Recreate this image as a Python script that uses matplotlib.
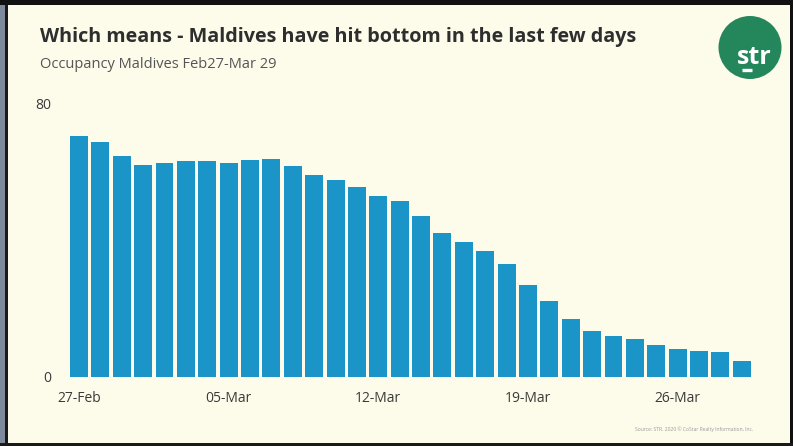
import matplotlib
matplotlib.use("Agg")
import matplotlib.pyplot as plt
from matplotlib.patches import Circle, Rectangle
from matplotlib.lines import Line2D

# Daily occupancy (%) in the Maldives, 27 Feb - 29 Mar 2020
days = ["27-Feb", "28-Feb", "29-Feb"] + [f"{d:02d}-Mar" for d in range(1, 30)]
occupancy = [70.5, 68.6, 64.6, 62.1, 62.7, 63.2, 63.2, 62.5, 63.5, 63.8,
             61.6, 59.1, 57.7, 55.5, 52.9, 51.4, 47.2, 42.2, 39.5, 36.9,
             33.1, 26.9, 22.3, 17.1, 13.5, 12.1, 11.2, 9.5, 8.2, 7.6,
             7.4, 4.6]
tick_labels = ["27-Feb", "05-Mar", "12-Mar", "19-Mar", "26-Mar"]
y_ticks = [0, 80]

title = "Which means - Maldives have hit bottom in the last few days"
subtitle = "Occupancy Maldives Feb27-Mar 29"
source = "Source: STR. 2020 \u00a9 CoStar Realty Information, Inc."

W, H = 793, 446
BG = "#fdfbea"
BAR = "#1b95c8"
GREEN = "#24875c"
FONT = "Open Sans"

plt.rcParams["font.family"] = [FONT, "DejaVu Sans"]

fig = plt.figure(figsize=(W / 100, H / 100), dpi=100)
fig.patch.set_facecolor(BG)


def fx(px):
    return px / W


def fy(py):
    return 1 - py / H


# Slide frame: desktop strip on the left, dark edges around the slide
fig.add_artist(Rectangle((0, 0), fx(5), 1, transform=fig.transFigure,
                         facecolor="#7d8a9c", edgecolor="none", zorder=0))
fig.add_artist(Rectangle((fx(5), 0), fx(2.5), 1, transform=fig.transFigure,
                         facecolor="#1a1a1a", edgecolor="none", zorder=0))
fig.add_artist(Rectangle((0, fy(5)), 1, 5 / H, transform=fig.transFigure,
                         facecolor="#111111", edgecolor="none", zorder=0))
fig.add_artist(Rectangle((fx(790), 0), fx(3), 1, transform=fig.transFigure,
                         facecolor="#111111", edgecolor="none", zorder=0))
fig.add_artist(Rectangle((0, 0), 1, 3.5 / H, transform=fig.transFigure,
                         facecolor="#1a1a1a", edgecolor="none", zorder=0))

# Chart area
ax_left, ax_right = 60, 762
ax_top, ax_bottom = 103.5, 377
ax = fig.add_axes([fx(ax_left), fy(ax_bottom), fx(ax_right - ax_left),
                   (ax_bottom - ax_top) / H])
ax.set_facecolor("none")

pitch = 21.38
first_center = 79
x = list(range(len(days)))
ax.bar(x, occupancy, width=0.84, color=BAR, edgecolor="none")
ax.set_xlim((ax_left - first_center) / pitch, (ax_right - first_center) / pitch)
ax.set_ylim(0, 80)

ax.set_xticks([days.index(t) for t in tick_labels])
ax.set_xticklabels(tick_labels)
ax.set_yticks(y_ticks)
ax.set_yticklabels([str(v) for v in y_ticks])
ax.tick_params(axis="both", length=0, labelsize=10, labelcolor="#3a3a3a")
ax.tick_params(axis="x", pad=10)
ax.tick_params(axis="y", pad=6)
for s in ax.spines.values():
    s.set_visible(False)

# Titles
fig.text(fx(40), fy(42), title, fontsize=14.2, fontweight="bold",
         color="#2e2e2e", va="baseline", ha="left")
fig.text(fx(40), fy(68.5), subtitle, fontsize=10.5, color="#555555",
         va="baseline", ha="left")

# Source note
fig.text(fx(753), fy(431), source, fontsize=3.6, color="#9a9a9a",
         ha="right", va="baseline")

# Logo
logo_ax = fig.add_axes([fx(718), fy(79), fx(64), 63 / H])
logo_ax.set_xlim(0, 64)
logo_ax.set_ylim(63, 0)
logo_ax.set_aspect("equal")
logo_ax.axis("off")
logo_ax.add_patch(Circle((32, 31.5), 31.5, facecolor=GREEN, edgecolor="none",
                         zorder=1))
logo_ax.text(36, 48, "str", fontsize=18, fontweight="bold", color="white",
             ha="center", va="baseline", zorder=3)
logo_ax.add_line(Line2D([23.5, 34], [53.5, 53.5], color="white", lw=2.4,
                        solid_capstyle="butt", zorder=3))

fig.savefig("out.png", dpi=100, facecolor=BG)
